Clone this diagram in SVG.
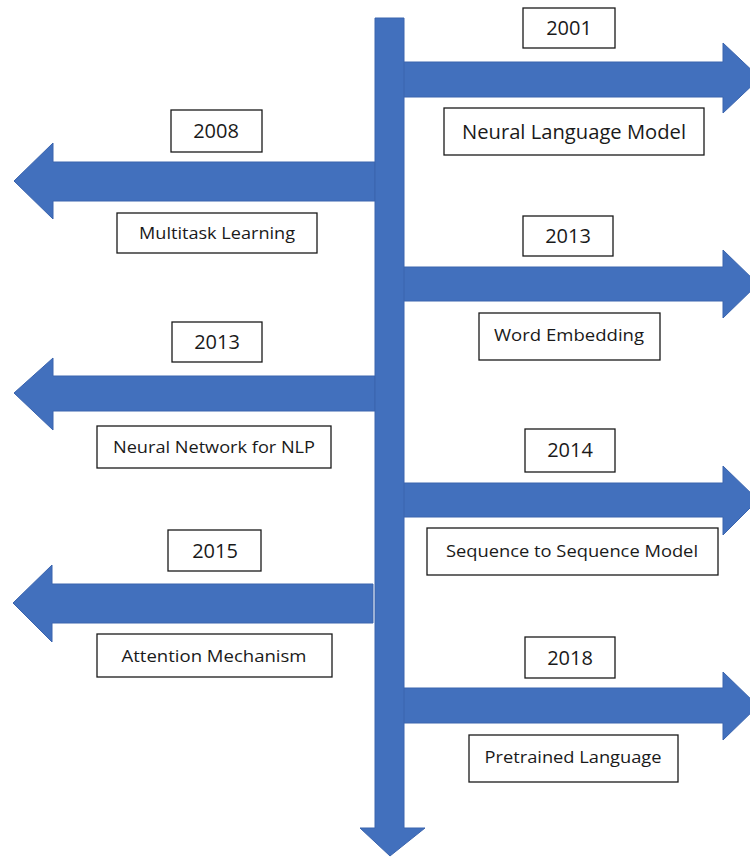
<svg xmlns="http://www.w3.org/2000/svg" width="750" height="857" viewBox="0 0 750 857">
<style>
.arr{fill:#4270BD;stroke:#3A64AE;stroke-width:1}
.box{fill:#fff;stroke:#1a1a1a;stroke-width:1.3}
.t{font-family:"Open Sans","Liberation Sans",sans-serif;fill:#1a1a1a;text-anchor:middle}
.yr{font-size:20px}
.lb{font-size:16px}
</style>
<rect width="750" height="857" fill="#fff"/>
<g id="connectors">
<polygon class="arr" points="375,162 53,162 53,143 14,181 53,219 53,201 375,201"/>
<polygon class="arr" points="375,376 53,376 53,358 14,393 53,430 53,411 375,411"/>
<polygon class="arr" points="373,584 52,584 52,565 13,603 52,642 52,623 373,623"/>
<polygon class="arr" points="403,62 723,62 723,43 760,78 723,113 723,97 403,97"/>
<polygon class="arr" points="403,267 723,267 723,250 758,284 723,318 723,301 403,301"/>
<polygon class="arr" points="403,483 723,483 723,466 758,500 723,535 723,517 403,517"/>
<polygon class="arr" points="403,688 723,688 723,672 758,706 723,740 723,723 403,723"/>
<polygon class="arr" points="375,18 404,18 404,828 425,828 390,856 360,828 375,828"/>
</g>
<g id="y2001"><rect class="box" x="523" y="8" width="92" height="40"/><text class="t yr" x="569" y="35">2001</text></g>
<g id="nlm"><rect class="box" x="444" y="108" width="260" height="47"/><text class="t" font-size="20" x="574" y="139" textLength="224" lengthAdjust="spacingAndGlyphs">Neural Language Model</text></g>
<g id="y2008"><rect class="box" x="171" y="110" width="91" height="42"/><text class="t yr" x="216" y="138">2008</text></g>
<g id="mtl"><rect class="box" x="117" y="213" width="200" height="40"/><text class="t lb" x="217" y="239" textLength="156" lengthAdjust="spacingAndGlyphs">Multitask Learning</text></g>
<g id="y2013a"><rect class="box" x="523" y="216" width="90" height="40"/><text class="t yr" x="568" y="243">2013</text></g>
<g id="we"><rect class="box" x="479" y="313" width="181" height="47"/><text class="t lb" x="569" y="341" textLength="150" lengthAdjust="spacingAndGlyphs">Word Embedding</text></g>
<g id="y2013b"><rect class="box" x="172" y="322" width="90" height="40"/><text class="t yr" x="217" y="349">2013</text></g>
<g id="nnnlp"><rect class="box" x="97" y="426" width="234" height="42"/><text class="t lb" x="214" y="453" textLength="202" lengthAdjust="spacingAndGlyphs">Neural Network for NLP</text></g>
<g id="y2014"><rect class="box" x="525" y="429" width="90" height="43"/><text class="t yr" x="570" y="457">2014</text></g>
<g id="s2s"><rect class="box" x="427" y="528" width="291" height="47"/><text class="t lb" x="572" y="557" textLength="252" lengthAdjust="spacingAndGlyphs">Sequence to Sequence Model</text></g>
<g id="y2015"><rect class="box" x="168" y="530" width="93" height="41"/><text class="t yr" x="215" y="558">2015</text></g>
<g id="att"><rect class="box" x="97" y="634" width="235" height="43"/><text class="t lb" x="214" y="662" textLength="185" lengthAdjust="spacingAndGlyphs">Attention Mechanism</text></g>
<g id="y2018"><rect class="box" x="525" y="637" width="90" height="41"/><text class="t yr" x="570" y="665">2018</text></g>
<g id="plm"><rect class="box" x="469" y="735" width="209" height="47"/><text class="t lb" x="573" y="763" textLength="177" lengthAdjust="spacingAndGlyphs">Pretrained Language</text></g>
</svg>
